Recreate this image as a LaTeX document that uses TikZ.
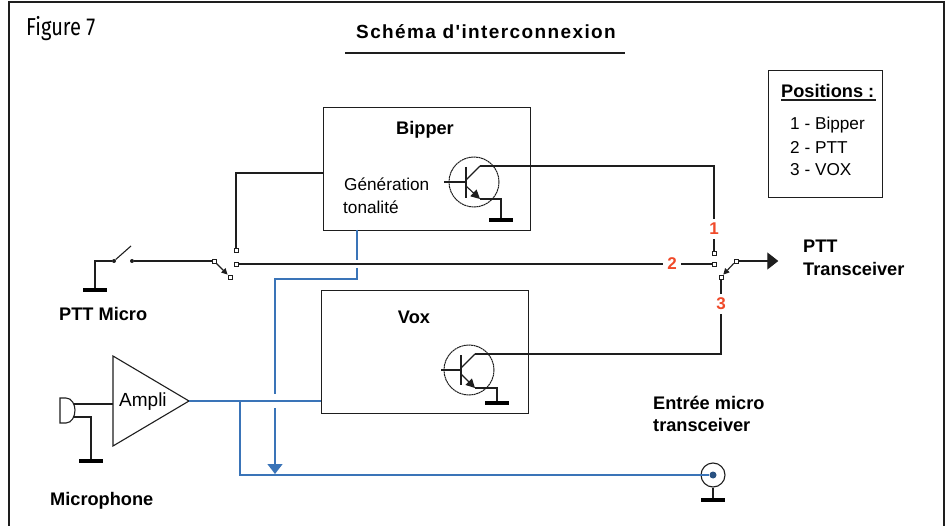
\documentclass[tikz,border=0pt]{standalone}
\usepackage{fontspec}
\setmainfont{Liberation Sans}
\newfontfamily\figfont{Fira Sans}
\newfontfamily\titlefont{Liberation Sans}[LetterSpace=7.3]
\usetikzlibrary{arrows.meta}
\definecolor{wireblue}{HTML}{3A74B8}
\definecolor{numred}{HTML}{F04A2A}
\definecolor{ink}{HTML}{1E1E1E}
\tikzset{
  wire/.style={draw=ink,line width=1.1pt},
  bluewire/.style={draw=wireblue,line width=1.4pt},
  framebox/.style={draw=ink,line width=1.3pt,fill=none,inner sep=0pt,anchor=north west},
  gnd/.style={fill=black,draw=none,minimum width=24pt,minimum height=4.5pt,inner sep=0pt},
  sq/.style={draw=ink,line width=0.9pt,fill=white,minimum size=4pt,inner sep=0pt},
  dot/.style={circle,fill=ink,minimum size=4pt,inner sep=0pt},
  lab/.style={inner sep=0pt,anchor=west,font=\fontsize{17.2}{20}\selectfont},
  blab/.style={inner sep=0pt,anchor=west,font=\fontsize{18.2}{20}\selectfont\bfseries},
  num/.style={inner xsep=4pt,inner ysep=4pt,text=numred,font=\fontsize{17}{20}\selectfont\bfseries},
  trans/.style={circle,draw=ink,line width=1pt,dash pattern=on 2pt off 0.5pt,minimum size=50pt,inner sep=0pt},
}
\begin{document}
\begin{tikzpicture}[x=1pt,y=-1pt]
\useasboundingbox (0,0) rectangle (949,526);
\fill[white] (0,0) rectangle (949,526);
% outer frame
\draw[draw=ink,line width=2pt] (9,526) -- (9,2) -- (944,2) -- (944,526);
% titles
\node[inner sep=0pt,anchor=west,font=\fontsize{24.5}{28}\selectfont] (fig) at (26,29) {\figfont\scalebox{0.82}[1]{Figure 7}};
\node[inner sep=0pt,font=\fontsize{19}{22}\selectfont\titlefont\bfseries] (title) at (486,32) {Schéma d'interconnexion};
\coordinate (ulA) at (345,53);
\coordinate (ulB) at (625,53);
\draw[wire] (ulA) -- (ulB);
% positions box
\node[framebox,minimum width=114pt,minimum height=127pt] (pos) at (768,70) {};
\node[blab] (ptitle) at (781,91) {Positions :};
\coordinate (puA) at (781,100);
\coordinate (puB) at (876,100);
\draw[wire] (puA) -- (puB);
\node[lab] (p1) at (790,125) {1 - Bipper};
\node[lab] (p2) at (790,147) {2 - PTT};
\node[lab] (p3) at (790,170) {3 - VOX};
% bipper
\node[framebox,minimum width=207pt,minimum height=123pt] (bip) at (323,107) {};
\node[blab,anchor=center] (biptxt) at (425,130) {Bipper};
\node[lab] (gen) at (344,184) {Génération};
\node[lab] (ton) at (343,207) {tonalité};
\node[trans] (t1) at (474,182) {};
\node[gnd] (g1) at (501,220) {};
\coordinate (t1b) at (444,182);
\coordinate (t1bb) at (466,182);
\coordinate (t1u) at (466,167);
\coordinate (t1d) at (466,198);
\coordinate (t1c0) at (466,180);
\coordinate (t1c) at (480,166);
\coordinate (t1e0) at (466,186);
\coordinate (t1e) at (480,199);
\coordinate (t1g) at (501,199);
\draw[wire] (t1b) -- (t1bb);
\draw[wire,line width=1.5pt] (t1u) -- (t1d);
\draw[wire] (t1c0) -- (t1c);
\draw[wire,-{Triangle[length=9pt,width=9pt]}] (t1e0) -- (t1e);
\draw[wire] (t1e) -- (t1g) -- (g1);
% vox
\node[framebox,minimum width=207pt,minimum height=123pt] (vox) at (321,290) {};
\node[blab,anchor=center] (voxtxt) at (414,317) {Vox};
\node[trans] (t2) at (469,370) {};
\node[gnd] (g2) at (497,403) {};
\coordinate (t2b) at (441,370);
\coordinate (t2bb) at (461,370);
\coordinate (t2u) at (461,355);
\coordinate (t2d) at (461,385);
\coordinate (t2c0) at (461,368);
\coordinate (t2c) at (475,354);
\coordinate (t2e0) at (461,374);
\coordinate (t2e) at (475,388);
\coordinate (t2g) at (497,388);
\draw[wire] (t2b) -- (t2bb);
\draw[wire,line width=1.5pt] (t2u) -- (t2d);
\draw[wire] (t2c0) -- (t2c);
\draw[wire,-{Triangle[length=9pt,width=9pt]}] (t2e0) -- (t2e);
\draw[wire] (t2e) -- (t2g) -- (g2);
% switch contacts
\node[sq] (s1) at (714,253) {};
\node[sq] (s2) at (714,264) {};
\node[sq] (s3) at (721,277) {};
\node[sq] (sw) at (736,261) {};
\node[sq] (l0) at (214,261) {};
\node[sq] (l1) at (230,277) {};
\node[sq] (l2) at (236,250) {};
\node[sq] (l3) at (236,264) {};
\node[num] (n1) at (714,229) {1};
\node[num] (n2) at (672,264) {2};
\node[num] (n3) at (721,304) {3};
% collector wires
\coordinate (c1a) at (714,166);
\draw[wire] (t1c) -- (c1a) -- (n1.north);
\draw[wire] (n1.south) -- (s1);
\coordinate (c2a) at (721,354);
\draw[wire] (t2c) -- (c2a) -- (n3.south);
\draw[wire] (s3) -- (n3.north);
% PTT line
\draw[wire] (l3) -- (n2.west);
\draw[wire] (n2.east) -- (s2);
\draw[wire,-{Triangle[length=6pt,width=6pt]}] (l0) -- (l1);
\draw[wire,-{Triangle[length=6pt,width=6pt]}] (sw) -- (s3);
\node[inner sep=0pt] (ptt) at (779,261) {};
\draw[wire,-{Triangle[length=11pt,width=17pt]}] (sw) -- (ptt);
\node[blab] (pttT) at (803,246) {PTT};
\node[blab] (pttT2) at (803,269) {Transceiver};
% bipper to selector
\coordinate (bl) at (323,173);
\coordinate (blc) at (236,173);
\draw[wire] (bl) -- (blc) -- (l2);
% PTT micro
\node[gnd] (g3) at (95,290) {};
\node[dot] (k1) at (114,261) {};
\node[dot] (k2) at (132,261) {};
\coordinate (k3) at (131,246);
\coordinate (k4) at (95,261);
\draw[wire] (g3) -- (k4) -- (k1);
\draw[wire] (k1) -- (k3);
\draw[wire] (k2) -- (l0);
\node[blab] (pm) at (59,314) {PTT Micro};
% ampli
\coordinate (a1) at (113,356);
\coordinate (a2) at (113,446);
\coordinate (a3) at (189,401);
\draw[draw=ink,line width=1.1pt] (a1) -- (a3) -- (a2) -- cycle;
\node[lab,font=\fontsize{19}{20}\selectfont] (amp) at (119,402) {Ampli};
% microphone
\draw[draw=ink,line width=1.1pt] (60,398) -- (66,398) .. controls (72,398) and (75,405) .. (75,410) .. controls (75,416) and (72,423) .. (66,423) -- (60,423) -- cycle;
\coordinate (m1) at (74,404);
\coordinate (m2) at (113,404);
\coordinate (m3) at (73,417);
\coordinate (m4) at (91,417);
\node[gnd] (g4) at (91,461) {};
\draw[wire] (m1) -- (m2);
\draw[wire] (m3) -- (m4) -- (g4);
\node[blab] (mic) at (50,501) {Microphone};
% blue wires
\coordinate (voxin) at (321,401);
\draw[bluewire] (a3) -- (voxin);
\node[circle,draw=ink,line width=1.1pt,fill=white,minimum size=24pt,inner sep=0pt] (jack) at (713,475) {};
\node[circle,fill=wireblue!70!black,minimum size=7pt,inner sep=0pt] (jd) at (713,475) {};
\coordinate (b1) at (240,401);
\coordinate (b2) at (240,475);
\draw[bluewire] (b1) -- (b2) -- (jd);
\node[gnd] (g5) at (713,500) {};
\draw[wire] (jack) -- (g5);
\coordinate (d1) at (357,230);
\coordinate (d2) at (357,260);
\coordinate (d3) at (357,268);
\coordinate (d4) at (357,279);
\coordinate (d5) at (275,279);
\coordinate (d6) at (275,394);
\coordinate (d7) at (275,408);
\coordinate (d8) at (275,474);
\draw[bluewire] (d1) -- (d2);
\draw[bluewire] (d3) -- (d4) -- (d5) -- (d6);
\draw[bluewire,-{Triangle[length=10pt,width=15pt]}] (d7) -- (d8);
\node[blab] (ent) at (653,403) {Entrée micro};
\node[blab] (ent2) at (653,425) {transceiver};
\end{tikzpicture}
\end{document}
